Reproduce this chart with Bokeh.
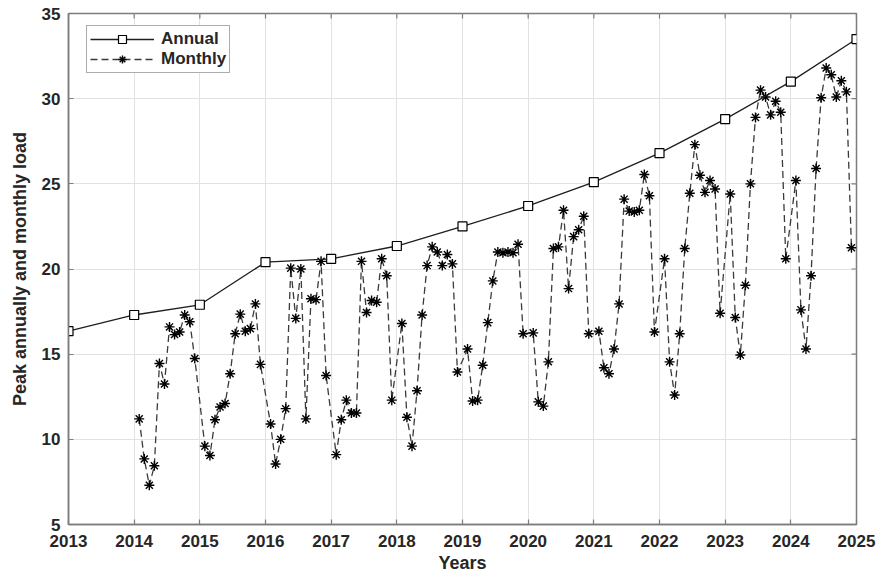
import math
from bokeh.plotting import figure
from bokeh.models import Range1d, FixedTicker, Legend, LegendItem, ColumnDataSource
from bokeh.embed import file_html
from bokeh.resources import INLINE

# Annual peak load (one value per year)
years = list(range(2013, 2026))
annual_peak = [16.35, 17.3, 17.9, 20.4, 20.6, 21.35, 22.5, 23.7, 25.1, 26.8, 28.8, 31.0, 33.5]

# Monthly peak load, 12 values per year
monthly_years = list(range(2014, 2025))
load_2014 = [11.2, 8.85, 7.3, 8.45, 14.45, 13.25, 16.6, 16.15, 16.3, 17.3, 16.9, 14.75]
load_2015 = [9.6, 9.05, 11.15, 11.9, 12.1, 13.85, 16.2, 17.35, 16.35, 16.5, 17.95, 14.4]
load_2016 = [10.9, 8.55, 10.0, 11.8, 20.05, 17.1, 20.0, 11.2, 18.25, 18.2, 20.45, 13.75]
load_2017 = [9.1, 11.15, 12.3, 11.55, 11.55, 20.45, 17.45, 18.15, 18.05, 20.6, 19.6, 12.3]
load_2018 = [16.8, 11.3, 9.6, 12.85, 17.3, 20.2, 21.3, 21.0, 20.2, 20.85, 20.3, 13.95]
load_2019 = [15.3, 12.25, 12.3, 14.35, 16.85, 19.3, 21.0, 20.95, 21.0, 20.95, 21.45, 16.2]
load_2020 = [16.25, 12.2, 11.95, 14.55, 21.2, 21.3, 23.45, 18.85, 21.9, 22.3, 23.1, 16.2]
load_2021 = [16.35, 14.2, 13.85, 15.3, 17.95, 24.1, 23.4, 23.35, 23.45, 25.55, 24.3, 16.3]
load_2022 = [20.6, 14.55, 12.6, 16.2, 21.2, 24.45, 27.3, 25.5, 24.5, 25.2, 24.7, 17.4]
load_2023 = [24.4, 17.15, 14.95, 19.05, 25.0, 28.9, 30.5, 30.1, 29.05, 29.85, 29.2, 20.6]
load_2024 = [25.2, 17.6, 15.3, 19.6, 25.9, 30.05, 31.8, 31.4, 30.1, 31.05, 30.4, 21.25]
monthly_by_year = [load_2014, load_2015, load_2016, load_2017, load_2018, load_2019,
                   load_2020, load_2021, load_2022, load_2023, load_2024]

x_ticks = list(range(2013, 2026))
y_ticks = [5, 10, 15, 20, 25, 30, 35]
X_MIN, X_MAX = 2013, 2025
Y_MIN, Y_MAX = 5, 35

# months are spread inside each year at m/13 steps
month_x, month_y = [], []
for yr, vals in zip(monthly_years, monthly_by_year):
    for m, v in enumerate(vals, start=1):
        month_x.append(yr + m / 13.0)
        month_y.append(v)

annual_src = ColumnDataSource(dict(x=years, y=annual_peak))
month_src = ColumnDataSource(dict(x=month_x, y=month_y))

AX_COLOR = "#7c7c7c"
TXT_COLOR = "#262626"
FONT = "Liberation Sans"

p = figure(width=881, height=577, output_backend="svg", toolbar_location=None,
           x_range=Range1d(X_MIN, X_MAX), y_range=Range1d(Y_MIN, Y_MAX),
           min_border_left=68, min_border_right=25, min_border_top=13, min_border_bottom=53)
p.background_fill_color = "white"
p.border_fill_color = "white"
p.outline_line_color = AX_COLOR
p.outline_line_width = 1.5

p.xgrid.ticker = FixedTicker(ticks=x_ticks)
p.ygrid.ticker = FixedTicker(ticks=y_ticks)
p.grid.grid_line_color = "#e2e2e2"
p.grid.grid_line_width = 1

for ax in (p.xaxis[0], p.yaxis[0]):
    ax.axis_line_color = AX_COLOR
    ax.axis_line_width = 1.5
    ax.major_tick_line_color = AX_COLOR
    ax.major_tick_line_width = 1.2
    ax.major_tick_in = 5
    ax.major_tick_out = 0
    ax.minor_tick_line_color = None
    ax.major_label_text_font = FONT
    ax.major_label_text_font_style = "bold"
    ax.major_label_text_font_size = "17px"
    ax.major_label_text_color = TXT_COLOR
    ax.axis_label_text_font = FONT
    ax.axis_label_text_font_style = "bold"
    ax.axis_label_text_font_size = "18px"
    ax.axis_label_text_color = TXT_COLOR

p.xaxis[0].ticker = FixedTicker(ticks=x_ticks)
p.yaxis[0].ticker = FixedTicker(ticks=y_ticks)
p.xaxis[0].axis_label = "Years"
p.yaxis[0].axis_label = "Peak annually and monthly load"
p.xaxis[0].major_label_standoff = 10
p.xaxis[0].axis_label_standoff = 3
p.yaxis[0].major_label_standoff = 8
p.yaxis[0].axis_label_standoff = 9

# inward ticks on the top and right edges of the box (half of each dash is clipped)
p.scatter(x_ticks, [Y_MAX] * len(x_ticks), marker="dash", angle=math.pi / 2, size=10,
          line_color=AX_COLOR, line_width=1.2)
p.scatter([X_MAX] * len(y_ticks), y_ticks, marker="dash", size=10,
          line_color=AX_COLOR, line_width=1.2)

# monthly series: dashed line with asterisks
m_line = p.line("x", "y", source=month_src, line_color="#3a3a3a", line_width=1.3,
                line_dash="7 4")
m_pts = p.scatter("x", "y", source=month_src, marker="asterisk", size=10,
                  line_color="black", line_width=1.4)

# annual series: solid line with open squares
a_line = p.line("x", "y", source=annual_src, line_color="#1e1e1e", line_width=1.3)
a_pts = p.scatter("x", "y", source=annual_src, marker="square", size=9,
                  line_color="black", line_width=1.2, fill_color="white")

legend = Legend(items=[LegendItem(label="Annual", renderers=[a_line, a_pts]),
                       LegendItem(label="Monthly", renderers=[m_line, m_pts])],
                location=(18, 451))
legend.margin = 0
legend.padding = 3
legend.spacing = 0
legend.glyph_width = 64
legend.glyph_height = 20
legend.label_height = 20
legend.label_standoff = 7
legend.label_text_font = FONT
legend.label_text_font_style = "bold"
legend.label_text_font_size = "17px"
legend.label_text_color = TXT_COLOR
legend.border_line_color = "#5a5a5a"
legend.border_line_width = 1.5
legend.background_fill_color = "white"
legend.background_fill_alpha = 1.0
p.add_layout(legend, "center")

open("out.html", "w").write(file_html(p, INLINE))
